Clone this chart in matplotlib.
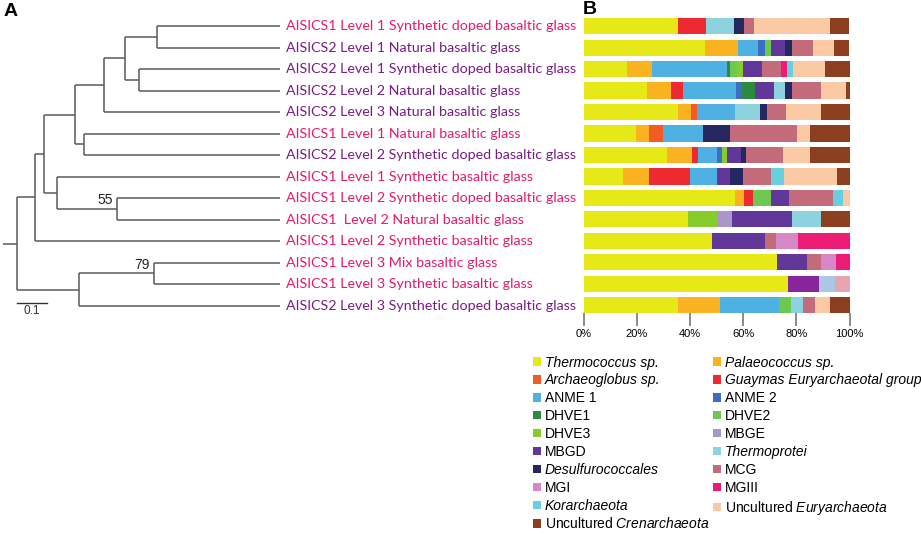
import matplotlib
matplotlib.use('Agg')
from matplotlib import pyplot as plt
from matplotlib.patches import Patch
import numpy as np

plt.rcParams['font.family'] = ['Liberation Sans', 'DejaVu Sans']
plt.rcParams['mathtext.fontset'] = 'custom'
plt.rcParams['mathtext.rm'] = 'Liberation Sans'
plt.rcParams['mathtext.it'] = 'Liberation Sans:italic'

# samples, top to bottom (tree leaf order = bar order)
samples = ['AISICS1 Level 1 Synthetic doped basaltic glass',
           'AISICS2 Level 1 Natural basaltic glass',
           'AISICS2 Level 1 Synthetic doped basaltic glass',
           'AISICS2 Level 2 Natural basaltic glass',
           'AISICS2 Level 3 Natural basaltic glass',
           'AISICS1 Level 1 Natural basaltic glass',
           'AISICS2 Level 2 Synthetic doped basaltic glass',
           'AISICS1 Level 1 Synthetic basaltic glass',
           'AISICS1 Level 2 Synthetic doped basaltic glass',
           'AISICS1  Level 2 Natural basaltic glass',
           'AISICS1 Level 2 Synthetic basaltic glass',
           'AISICS1 Level 3 Mix basaltic glass',
           'AISICS1 Level 3 Synthetic basaltic glass',
           'AISICS2 Level 3 Synthetic doped basaltic glass']

# tree (leaves numbered as in samples, internal labels = bootstrap)
tree_newick = ("(((((((1:0.419,2:0.419):0.108,(3:0.478,4:0.478):0.049):0.071,"
               "5:0.598):0.099,(6:0.668,7:0.668):0.029):0.104,"
               "(8:0.759,(9:0.555,10:0.555)55:0.204):0.042):0.033,11:0.834):0.061,"
               "((12:0.428,13:0.428)79:0.257,14:0.685):0.210):0.046;")

# relative abundance (%), one value per sample
thermococcus = [35.4, 45.5, 16.4, 24.0, 35.4, 19.7, 31.5, 14.7, 56.8, 39.1, 48.3, 72.8, 77.0, 35.4]
palaeococcus = [0, 12.6, 9.3, 8.9, 4.8, 4.9, 9.1, 10.0, 3.4, 0, 0, 0, 0, 15.7]
archaeoglobus = [0, 0, 0, 0, 2.3, 5.4, 0, 0, 0, 0, 0, 0, 0, 0]
guaymas = [10.6, 0, 0, 4.6, 0, 0, 2.4, 15.2, 3.3, 0, 0, 0, 0, 0]
anme1 = [0, 7.6, 28.1, 19.7, 14.5, 15.0, 7.0, 10.1, 0, 0, 0, 0, 0, 22.5]
anme2 = [0, 2.4, 0, 2.3, 0, 0, 2.0, 0, 0, 0, 0, 0, 0, 0]
dhve1 = [0, 0, 1.4, 5.1, 0, 0, 0, 0, 0, 0, 0, 0, 0, 0]
dhve2 = [0, 2.5, 2.4, 0, 0, 0, 0, 0, 7.0, 0, 0, 0, 0, 4.4]
dhve3 = [0, 0, 2.4, 0, 0, 0, 2.0, 0, 0, 11.0, 0, 0, 0, 0]
mbge = [0, 0, 0, 0, 0, 0, 0, 0, 0, 5.6, 0, 0, 0, 0]
mbgd = [0, 5.1, 7.1, 6.8, 0, 0, 5.0, 5.0, 6.6, 22.7, 20.0, 11.1, 0, 0]
thermoprotei = [10.6, 0, 0, 4.3, 9.4, 0, 0, 0, 0, 10.8, 0, 0, 0, 4.5]
desulfurococcales = [3.8, 2.6, 0, 2.5, 2.4, 10.0, 2.1, 5.0, 0, 0, 0, 0, 0, 0]
mcg = [3.5, 7.8, 7.0, 10.9, 7.1, 25.2, 13.8, 10.4, 16.8, 0, 4.0, 5.5, 0, 4.6]
mgi = [0, 0, 0, 0, 0, 0, 0, 0, 0, 0, 8.1, 5.6, 0, 0]
mgiii = [0, 0, 2.4, 0, 0, 0, 0, 0, 0, 0, 19.6, 5.0, 0, 0]
korarchaeota = [0, 0, 2.3, 0, 0, 0, 0, 4.8, 3.4, 0, 0, 0, 0, 0]
uncult_eury = [28.7, 8.1, 11.9, 9.4, 13.2, 5.0, 10.3, 20.2, 2.7, 0, 0, 0, 0, 5.6]
uncult_cren = [7.3, 5.6, 9.4, 1.6, 11.0, 14.8, 14.8, 4.6, 0, 10.8, 0, 0, 0, 7.3]
# three groups only in one sample, not in the legend
other_a = [0, 0, 0, 0, 0, 0, 0, 0, 0, 0, 0, 0, 11.6, 0]
other_b = [0, 0, 0, 0, 0, 0, 0, 0, 0, 0, 0, 0, 6.0, 0]
other_c = [0, 0, 0, 0, 0, 0, 0, 0, 0, 0, 0, 0, 5.4, 0]

# (label, values, colour, whole label italic?)
taxa = [
    ('Thermococcus sp.', thermococcus, '#e6e817', True),
    ('Palaeococcus sp.', palaeococcus, '#fbb220', True),
    ('Archaeoglobus sp.', archaeoglobus, '#f35a26', True),
    ('Guaymas Euryarchaeotal group', guaymas, '#ec2a2f', True),
    ('ANME 1', anme1, '#4fb0e4', False),
    ('ANME 2', anme2, '#3b6fc3', False),
    ('DHVE1', dhve1, '#2b8a3e', False),
    ('DHVE2', dhve2, '#6dc850', False),
    ('DHVE3', dhve3, '#86cc2b', False),
    ('MBGE', mbge, '#a996cb', False),
    ('MBGD', mbgd, '#62379a', False),
    ('Thermoprotei', thermoprotei, '#8dd2df', True),
    ('Desulfurococcales', desulfurococcales, '#262660', True),
    ('MCG', mcg, '#c46b7b', False),
    ('MGI', mgi, '#d688c6', False),
    ('MGIII', mgiii, '#ec1b73', False),
    ('Korarchaeota', korarchaeota, '#67cfdd', True),
    ('Uncultured $\\mathit{Euryarchaeota}$', uncult_eury, '#fcc9a5', False),
    ('Uncultured $\\mathit{Crenarchaeota}$', uncult_cren, '#8b3f1f', False),
]
extras = [(other_a, '#88259a'), (other_b, '#aec6e6'), (other_c, '#e6a6b0')]


def parse_newick(s):
    # tiny recursive parser -> dict(kids, name, len)
    pos = 0

    def node():
        nonlocal pos
        kids = []
        if s[pos] == '(':
            pos += 1
            kids.append(node())
            while s[pos] == ',':
                pos += 1
                kids.append(node())
            pos += 1  # ')'
        start = pos
        while s[pos] not in ':,();':
            pos += 1
        name = s[start:pos]
        length = 0.0
        if s[pos] == ':':
            pos += 1
            start = pos
            while s[pos] not in ',();':
                pos += 1
            length = float(s[start:pos])
        return {'kids': kids, 'name': name, 'len': length}

    return node()


def layout(n, depth=0.0):
    n['x'] = depth + n['len']
    if not n['kids']:
        n['y'] = int(n['name']) - 1
    else:
        for k in n['kids']:
            layout(k, n['x'])
        n['y'] = np.mean([n['kids'][0]['y'], n['kids'][-1]['y']])
    return n


def max_tip(n):
    if not n['kids']:
        return n['x']
    return max(max_tip(k) for k in n['kids'])


root = layout(parse_newick(tree_newick))
tip = max_tip(root)

W, H = 921, 534
fig = plt.figure(figsize=(W / 100, H / 100), dpi=100)

# ---- A: tree, in tree units / row units
row_px = 21.52
px_unit = 294.0
ax_t = fig.add_axes([0, 0, 1, 1])
ax_t.set_xlim(-3.3 / px_unit, (W - 3.3) / px_unit)
ax_t.set_ylim((H - 26) / row_px, -26 / row_px)
ax_t.axis('off')

lc = '#5a5a5a'
pink = '#e8196c'
purple = '#7b1b86'


def draw(n, parent_x):
    ax_t.plot([parent_x, n['x']], [n['y'], n['y']], color=lc, lw=1.1, solid_capstyle='butt')
    if n['kids']:
        ys = [k['y'] for k in n['kids']]
        ax_t.plot([n['x'], n['x']], [min(ys), max(ys)], color=lc, lw=1.1, solid_capstyle='butt')
        for k in n['kids']:
            draw(k, n['x'])
        if n['name']:
            ax_t.text(n['x'] - 0.014, n['y'] - 0.08, n['name'], ha='right', va='bottom',
                      fontsize=10, color='#222222')


draw(root, 0.0)

for i, name in enumerate(samples):
    col = pink if name.startswith('AISICS1') else purple
    ax_t.text(tip + 0.02, i, name, ha='left', va='center', fontsize=10.25,
              color=col, family=['Lato', 'DejaVu Sans'])

# scale bar 0.1
ax_t.plot([0.047, 0.147], [12.86, 12.86], color='#333333', lw=1)
ax_t.text(0.097, 12.96, '0.1', ha='center', va='top', fontsize=8.5, color='#333333')

fig.text(4 / W, 1 - 12 / H, 'A', fontsize=14, fontweight='bold', va='center', ha='left')
fig.text(583 / W, 1 - 10 / H, 'B', fontsize=14, fontweight='bold', va='center', ha='left')

# ---- B: stacked bars
ax_b = fig.add_axes([583.5 / W, 1 - 313.3 / H, 266.2 / W, 300.1 / H])
y = np.arange(len(samples))
left = np.zeros(len(samples))
handles = []
italic = []
for label, vals, color, it in taxa:
    vals = np.array(vals, dtype=float)
    ax_b.barh(y, vals, left=left, height=0.75, color=color, linewidth=0)
    left += vals
    handles.append(Patch(facecolor=color, label=label))
    italic.append(it)
for vals, color in extras:
    vals = np.array(vals, dtype=float)
    ax_b.barh(y, vals, left=left, height=0.75, color=color, linewidth=0)
    left += vals

ax_b.set_xlim(0, 100)
ax_b.set_ylim(13.37, -0.6)
ax_b.set_yticks([])
for s in ax_b.spines.values():
    s.set_visible(False)
ax_b.set_xticks([0, 20, 40, 60, 80, 100])
ax_b.set_xticklabels(['0%', '20%', '40%', '60%', '80%', '100%'])
ax_b.tick_params(axis='x', length=9, width=1.2, color='#777777', labelsize=8, pad=2)

idx = list(range(0, len(handles), 2)) + list(range(1, len(handles), 2))
leg = fig.legend(handles=[handles[i] for i in idx], loc='upper left',
                 bbox_to_anchor=(533 / W, 1 - 355.5 / H),
                 ncol=2, frameon=False, fontsize=10, borderpad=0, borderaxespad=0,
                 handlelength=0.55, handleheight=0.55, handletextpad=0.3,
                 labelspacing=0.28, columnspacing=0.3)
for t, i in zip(leg.get_texts(), idx):
    if italic[i]:
        t.set_fontstyle('italic')

fig.savefig('out.png', dpi=100)
